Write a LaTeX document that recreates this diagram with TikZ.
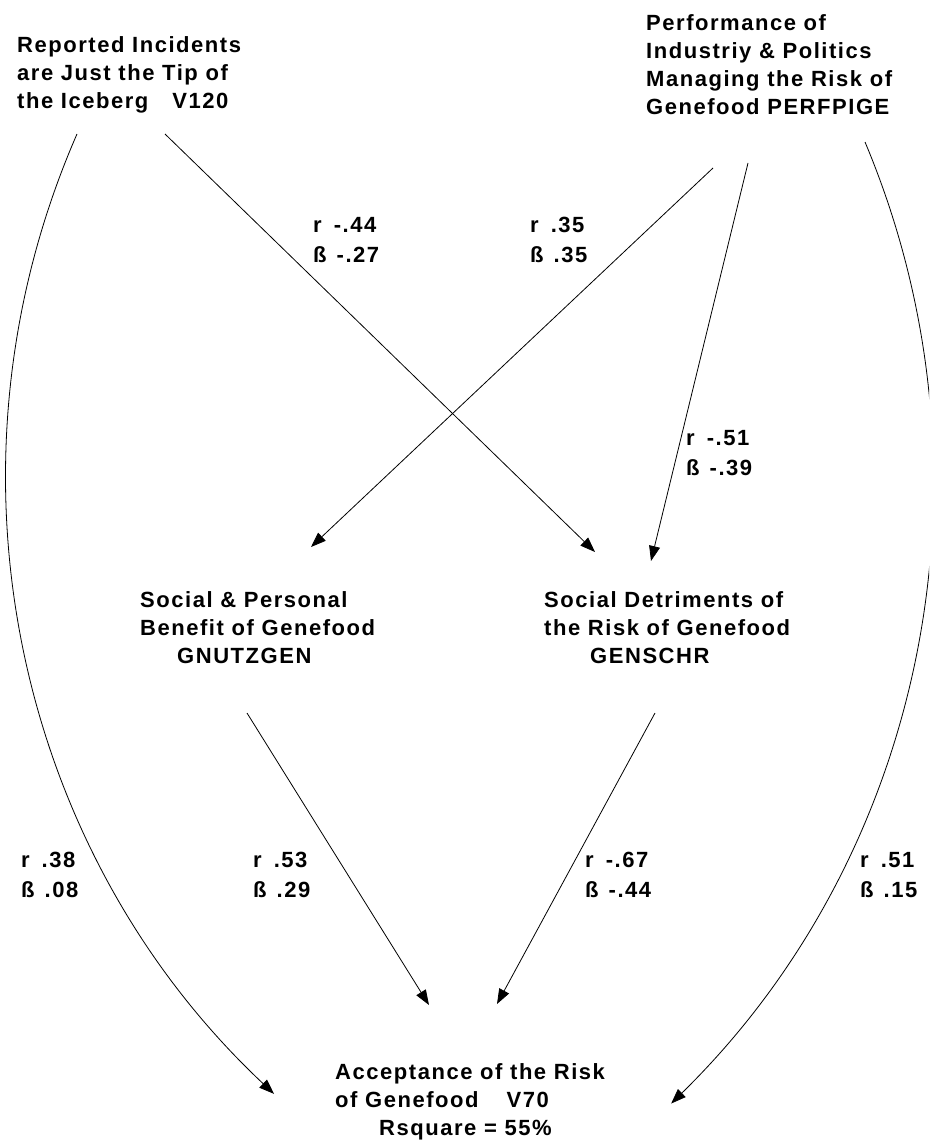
\documentclass[tikz,border=0pt]{standalone}
\usepackage{fontspec}
\setmainfont{Liberation Sans}[LetterSpace=7]
\usetikzlibrary{arrows.meta}
\begin{document}
\begin{tikzpicture}[x=1pt,y=-1pt,
  lbl/.style={font=\fontsize{22}{28}\selectfont\bfseries, inner sep=0pt, anchor=base west, align=left},
  coef/.style={font=\fontsize{22}{30}\selectfont\bfseries, inner sep=0pt, anchor=base west, align=left},
  arr/.style={-{Triangle[length=15pt,width=11pt]}, line width=0.8pt}]
\useasboundingbox (0,0) rectangle (929,1140);
\fill[white] (0,0) rectangle (929,1140);
\clip (0,0) rectangle (929,1140);
% text blocks (anchor = baseline of last line)
\node[lbl] (v120) at (17,108) {Reported Incidents\\are Just the Tip of\\the Iceberg\hspace{24pt}V120};
\node[lbl] (perf) at (646,114) {Performance of\\Industriy \& Politics\\Managing the Risk of\\Genefood PERFPIGE};
\node[lbl] (gnutz) at (140,663) {Social \& Personal\\Benefit of Genefood\\\hspace*{37pt}GNUTZGEN};
\node[lbl] (gensch) at (544,663) {Social Detriments of\\the Risk of Genefood\\\hspace*{46pt}GENSCHR};
\node[lbl] (v70) at (335,1135) {Acceptance of the Risk\\of Genefood\hspace{28pt}V70\\\hspace*{44pt}Rsquare = 55\%};
% coefficients
\node[coef] (c1) at (313,262) {r\hspace{12pt}-.44\\ß\hspace{10pt}-.27};
\node[coef] (c2) at (530,262) {r\hspace{12pt}.35\\ß\hspace{10pt}.35};
\node[coef] (c3) at (686,475) {r\hspace{12pt}-.51\\ß\hspace{10pt}-.39};
\node[coef] (c4) at (21,897) {r\hspace{12pt}.38\\ß\hspace{10pt}.08};
\node[coef] (c5) at (253,897) {r\hspace{12pt}.53\\ß\hspace{10pt}.29};
\node[coef] (c6) at (585,897) {r\hspace{12pt}-.67\\ß\hspace{10pt}-.44};
\node[coef] (c7) at (860,897) {r\hspace{12pt}.51\\ß\hspace{10pt}.15};
% connector ends
\coordinate (v120-a) at (165,134);
\coordinate (v120-b) at (77,134);
\coordinate (perf-a) at (713,168);
\coordinate (perf-b) at (748,163);
\coordinate (perf-c) at (865,142);
\coordinate (gnutz-in) at (311,547);
\coordinate (gensch-in1) at (595,552);
\coordinate (gensch-in2) at (651,561);
\coordinate (gnutz-out) at (247,713);
\coordinate (gensch-out) at (655,713);
\coordinate (v70-in1) at (429,1005);
\coordinate (v70-in2) at (497,1004);
% connectors
\draw[arr] (v120-a) -- (gensch-in1);
\draw[arr] (perf-a) -- (gnutz-in);
\draw[arr] (perf-b) -- (gensch-in2);
\draw[arr] (gnutz-out) -- (v70-in1);
\draw[arr] (gensch-out) -- (v70-in2);
\draw[arr] (v120-b) arc[start angle=203.6, end angle=133.2, radius=850];
\draw[arr] (perf-c) arc[start angle=-22.8, end angle=45.6, radius=872.6];
\end{tikzpicture}
\end{document}
